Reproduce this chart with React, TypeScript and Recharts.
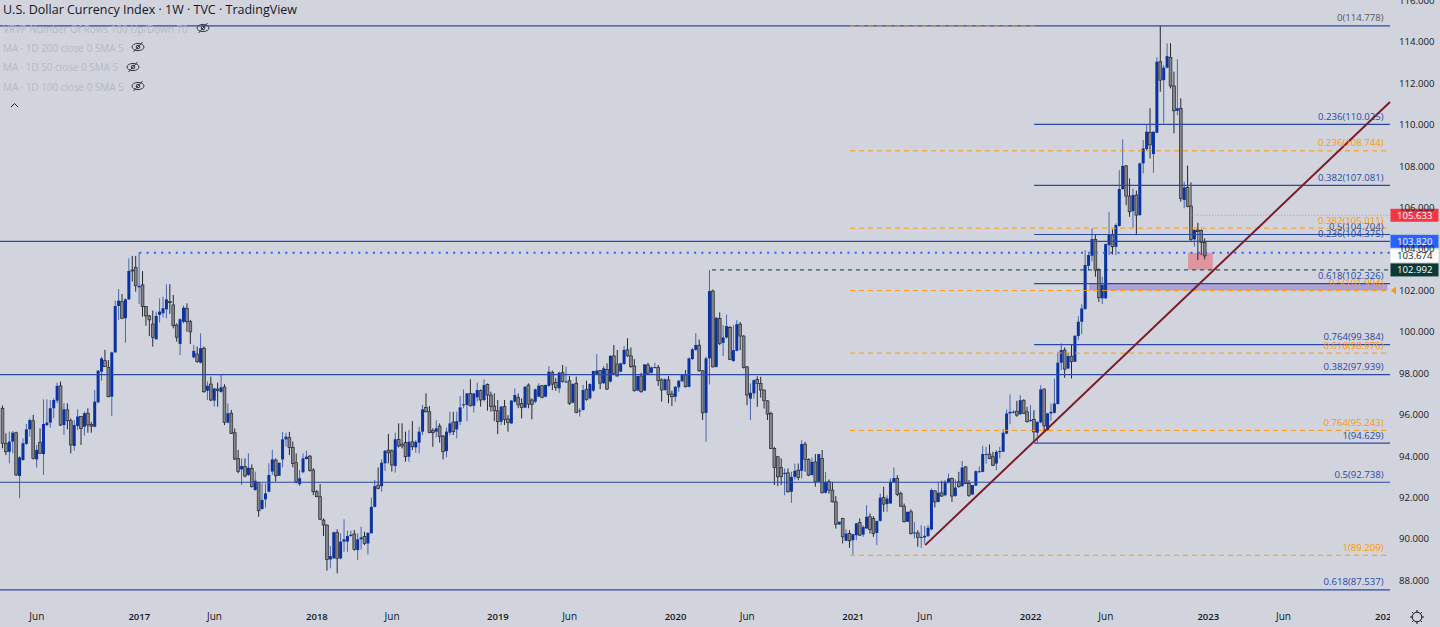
import { Bar, ComposedChart, ReferenceArea, ReferenceDot, ReferenceLine, XAxis, YAxis } from "recharts";

const opens = [
  96.31,94.62,94.21,94.70,95.13,93.04,93.81,94.59,95.29,95.71,
  93.84,94.67,94.10,95.50,95.62,96.31,96.68,97.39,95.50,96.23,
  95.71,94.49,95.45,95.91,95.42,96.07,95.53,95.42,96.60,98.08,
  98.61,98.29,96.87,99.01,101.25,101.46,100.66,101.57,102.99,103.12,
  102.15,102.27,101.22,100.77,100.38,99.64,100.82,100.90,101.09,101.46,
  101.30,100.33,99.42,100.49,101.14,100.49,98.77,98.93,98.51,99.21,
  97.16,97.48,96.68,97.24,97.10,97.34,95.62,96.07,95.13,93.89,
  93.36,93.49,93.09,93.41,92.36,92.72,91.44,91.91,92.28,93.25,
  93.81,93.05,93.84,94.81,94.89,94.42,93.68,92.64,93.22,93.86,
  94.00,93.33,92.28,92.04,90.91,90.67,89.01,89.06,90.32,89.06,
  89.87,89.87,90.14,90.24,89.46,89.98,90.11,89.78,90.27,91.55,
  92.60,92.55,93.65,94.29,94.26,93.52,94.81,94.58,94.65,93.97,
  94.69,94.42,94.65,95.18,96.35,96.14,95.23,95.18,95.45,94.97,
  94.24,95.13,95.64,95.29,95.66,96.45,96.47,97.03,96.43,96.84,
  97.16,96.71,97.46,96.95,96.42,96.19,95.66,96.39,95.79,95.58,
  96.63,96.84,96.55,96.34,97.43,96.71,96.63,96.87,97.40,96.87,
  97.39,98.03,97.55,97.27,98.03,97.58,97.64,96.58,97.52,96.15,
  96.23,97.23,96.79,97.16,97.95,98.13,97.52,98.19,97.60,98.84,
  98.45,98.08,98.45,99.13,98.84,98.35,97.16,97.87,97.16,98.40,
  98.03,98.27,98.29,97.68,97.19,97.68,97.00,96.87,97.32,97.61,
  97.92,97.35,98.69,99.13,99.36,98.12,96.09,98.72,101.97,98.31,
  100.65,99.47,99.73,100.21,98.59,99.09,100.37,99.80,98.31,96.78,
  97.03,97.70,97.51,97.19,96.67,96.06,94.37,93.97,93.45,93.16,
  93.19,92.28,93.00,93.32,93.29,94.58,93.84,93.08,93.72,92.76,
  93.89,92.23,92.76,92.36,91.79,90.70,90.99,89.91,90.26,89.94,
  90.18,90.79,90.21,90.50,91.07,90.99,90.29,90.87,92.00,91.68,
  91.71,92.74,92.92,92.19,91.58,90.83,91.31,90.26,90.29,90.05,
  90.07,90.13,90.46,92.32,91.79,92.23,92.11,92.73,92.92,92.08,
  92.76,92.55,93.48,92.68,92.15,92.58,93.24,93.24,94.08,94.10,
  93.97,93.64,94.19,94.21,95.09,96.06,96.11,96.17,96.03,96.70,
  96.14,95.71,95.77,95.13,95.63,97.24,95.26,96.06,96.09,96.51,
  98.51,99.12,98.23,98.83,98.56,99.80,100.49,101.10,103.19,103.68,
  104.47,103.02,101.62,101.62,104.19,104.68,104.11,105.12,106.90,108.02,
  106.56,105.83,106.61,105.64,108.14,108.83,109.64,108.59,109.62,113.05,
  112.16,112.76,113.26,111.88,110.68,110.80,106.37,106.98,106.08,104.47,
  104.92,104.89,104.31,
];

const highs = [
  96.44,95.10,95.18,95.21,95.18,94.00,94.86,95.55,95.82,95.99,
  94.54,95.34,96.74,96.74,96.71,96.79,97.55,97.60,96.55,96.55,
  95.82,95.74,96.26,95.94,96.15,96.31,95.66,97.19,98.13,98.80,
  99.13,98.64,99.05,101.51,102.07,101.83,101.62,103.55,103.67,103.67,
  103.83,102.94,101.25,100.82,101.03,100.98,101.62,101.70,102.30,102.30,
  101.78,100.41,100.66,101.27,101.38,100.58,99.37,99.29,99.93,99.29,
  97.60,97.84,97.27,97.55,97.92,97.47,96.55,96.23,95.34,94.30,
  93.89,93.89,94.13,93.60,93.25,92.75,92.68,92.68,93.65,94.30,
  93.89,93.68,95.17,95.13,95.17,94.70,94.13,93.33,94.13,94.26,
  94.05,93.41,92.36,92.65,90.99,90.70,89.66,90.35,90.46,90.27,
  90.95,90.40,90.40,90.43,90.27,90.59,90.35,90.30,92.00,92.84,
  93.45,93.84,94.29,95.07,94.32,95.13,95.58,95.58,95.18,95.26,
  95.69,94.78,95.42,96.47,97.03,96.42,95.34,95.74,95.58,95.02,
  95.37,96.14,96.14,96.14,96.90,97.22,97.03,97.71,97.03,97.55,
  97.22,97.71,97.51,97.11,97.03,96.71,96.42,96.71,95.98,96.71,
  97.27,97.03,96.79,97.38,97.51,96.79,97.27,97.52,97.44,97.44,
  98.35,98.13,97.76,98.08,98.40,98.32,97.87,97.52,97.84,96.31,
  97.44,97.64,97.52,98.13,98.93,98.16,98.35,98.48,98.88,99.37,
  99.13,98.51,99.32,99.69,99.25,98.68,97.87,98.03,98.43,98.51,
  98.32,98.51,98.40,97.76,97.76,97.87,97.16,97.39,97.68,97.92,
  98.16,98.76,99.21,99.93,99.63,98.15,98.80,102.99,102.05,100.73,
  100.94,100.33,100.84,100.28,100.33,100.57,100.48,99.84,98.35,97.51,
  97.70,97.86,97.83,97.22,96.70,96.14,94.45,94.00,93.89,93.40,
  93.40,93.24,93.64,93.64,94.77,94.69,93.89,93.93,94.10,94.10,
  94.29,93.24,92.87,92.76,92.07,90.83,91.02,90.46,90.42,90.23,
  90.78,90.99,90.66,91.63,91.23,91.10,90.87,92.19,92.52,92.11,
  92.92,93.45,93.08,92.28,91.71,91.31,91.42,90.83,90.42,90.66,
  90.62,90.66,92.44,92.36,92.76,92.81,92.84,93.16,92.97,92.87,
  93.24,93.77,93.51,92.84,92.60,93.32,93.51,94.50,94.45,94.56,
  94.21,94.29,94.45,95.30,96.25,96.98,96.22,96.67,96.95,96.74,
  96.38,96.46,96.22,95.66,97.43,97.27,96.09,96.54,97.75,99.04,
  99.44,99.25,98.99,99.36,99.84,100.76,101.33,103.95,103.79,105.00,
  104.68,103.07,102.66,104.27,105.80,104.95,105.24,107.81,109.30,108.06,
  107.41,106.93,106.82,108.17,109.27,109.99,110.80,109.67,113.26,114.78,
  112.89,113.94,113.94,112.57,113.16,111.28,107.25,108.03,107.22,104.95,
  105.27,104.95,104.52,
];

const lows = [
  94.38,94.05,93.65,94.13,93.04,91.96,93.78,94.54,94.94,93.84,
  93.44,94.10,93.09,95.45,95.37,95.82,96.55,95.45,95.02,95.29,
  94.13,94.26,95.26,94.54,94.99,95.13,95.13,95.39,96.55,97.64,
  98.32,96.84,95.94,99.00,100.58,100.62,99.48,101.54,102.43,101.94,
  101.35,100.74,100.29,99.80,99.29,99.64,100.45,100.70,100.66,100.87,
  100.17,99.53,98.88,100.41,100.01,99.42,98.72,98.51,98.48,97.06,
  96.71,96.65,96.39,96.39,97.06,95.50,95.58,95.07,93.81,93.17,
  92.60,92.97,93.04,92.48,92.33,91.07,91.43,91.51,92.25,93.09,
  92.77,93.04,93.46,94.46,94.05,93.46,92.68,92.56,93.17,93.84,
  93.25,92.12,92.01,90.91,90.14,88.47,88.58,89.06,88.34,89.01,
  89.38,89.38,90.11,89.43,88.98,89.49,89.70,89.25,90.27,91.52,
  92.39,92.28,93.29,93.65,93.25,93.20,94.42,94.37,93.73,93.73,
  94.29,94.16,94.13,95.02,96.11,95.10,94.45,94.90,94.65,93.84,
  93.94,95.02,95.02,94.86,95.50,96.31,95.69,96.39,96.10,96.63,
  96.39,96.63,96.19,96.14,95.69,95.07,95.50,95.50,95.18,95.55,
  96.58,96.31,95.82,96.31,96.31,95.77,96.55,96.84,96.79,96.84,
  97.35,97.19,97.16,97.06,97.55,97.55,96.47,96.55,96.07,95.91,
  96.20,96.68,96.74,97.11,97.92,97.23,97.48,97.19,97.55,97.97,
  97.84,98.05,98.40,98.80,98.26,97.11,97.16,97.06,97.16,97.97,
  97.97,98.24,97.39,96.63,97.16,96.55,96.42,96.63,97.11,97.60,
  97.32,97.32,98.64,99.09,98.07,95.74,94.69,97.46,98.28,98.28,
  99.36,98.83,99.68,98.64,98.56,99.06,99.12,98.23,96.46,95.74,
  96.78,96.38,96.82,96.30,95.74,94.34,92.60,92.55,92.60,92.11,
  92.23,91.74,92.87,92.84,92.92,93.24,93.03,93.08,92.52,92.76,
  92.19,92.19,92.19,91.76,90.50,90.67,89.78,89.89,89.57,89.25,
  89.94,90.15,90.10,90.50,90.26,90.10,89.70,90.84,91.31,91.31,
  91.71,92.71,92.07,91.55,90.79,90.83,90.21,90.02,89.62,89.57,
  89.78,90.10,90.42,91.52,91.76,92.03,92.07,92.68,91.79,92.03,
  92.48,92.52,92.65,92.03,92.11,92.55,93.19,93.22,93.64,93.85,
  93.52,93.32,93.89,94.21,95.06,95.54,96.06,95.90,95.98,96.03,
  95.62,95.66,94.69,94.64,95.58,95.22,95.22,95.71,96.06,96.51,
  98.15,97.78,98.20,97.75,98.54,99.60,99.89,101.08,102.98,103.40,
  102.66,101.45,101.34,101.60,103.71,103.74,103.71,105.08,106.85,106.12,
  105.56,105.04,104.67,105.61,107.66,108.74,108.38,107.69,109.59,111.60,
  110.07,112.73,111.76,109.59,110.47,106.29,105.97,106.02,104.40,104.12,
  103.47,103.71,103.50,
];

const closes = [
  94.62,94.21,94.70,95.13,93.09,93.94,94.62,95.29,95.74,93.89,
  94.30,94.13,95.55,95.62,96.31,96.71,97.39,95.50,96.26,95.71,
  94.54,95.50,95.91,95.34,96.07,95.50,95.45,96.63,98.13,98.72,
  98.32,96.87,99.01,101.25,101.51,100.66,101.57,102.94,102.94,102.23,
  102.22,101.22,100.77,100.58,99.74,100.77,100.98,101.14,101.57,101.41,
  100.30,99.74,100.61,101.17,100.49,100.00,99.08,98.56,99.21,97.11,
  97.40,96.71,97.27,97.16,97.32,95.62,96.07,95.10,93.86,93.25,
  93.52,93.04,93.44,92.52,92.81,91.36,91.88,92.20,93.09,93.84,
  93.05,93.68,94.81,94.94,94.42,93.65,92.75,92.93,93.89,93.97,
  93.30,92.28,92.04,90.95,90.67,89.01,89.17,90.32,89.06,89.87,
  89.98,90.14,90.20,89.50,89.98,90.07,89.78,90.30,91.55,92.55,
  92.44,93.68,94.26,94.16,93.57,94.81,94.49,94.49,93.97,94.69,
  94.45,94.69,95.18,96.26,96.14,95.15,95.13,95.34,94.94,94.21,
  95.18,95.58,95.18,95.69,96.35,96.50,97.03,96.43,97.03,97.19,
  96.71,97.43,96.95,96.39,96.19,95.66,96.39,95.77,95.63,96.68,
  96.95,96.47,96.35,97.35,96.51,96.50,97.22,97.40,96.84,97.44,
  98.08,97.48,97.31,98.03,97.60,97.60,96.55,97.48,96.10,96.20,
  97.19,96.74,97.48,98.11,98.13,97.52,98.24,97.24,98.84,98.00,
  97.87,98.48,99.13,98.84,98.32,97.16,97.87,97.11,98.43,98.00,
  98.29,98.30,97.64,97.19,97.71,96.98,96.87,97.35,97.64,97.92,
  97.35,98.72,99.16,99.37,98.12,96.09,98.72,101.97,98.31,100.68,
  99.44,99.73,100.28,98.67,99.12,100.37,99.80,98.28,96.95,97.06,
  97.67,97.51,97.19,96.67,96.03,94.37,93.45,93.00,93.00,93.19,
  92.28,93.00,93.29,92.97,94.58,93.84,93.08,93.72,92.76,94.10,
  92.23,92.76,92.36,91.79,90.71,90.83,90.10,90.26,89.91,90.23,
  90.75,90.18,90.58,91.07,90.46,90.26,90.87,91.99,91.68,91.95,
  92.76,92.94,92.15,91.58,90.83,91.31,90.26,90.31,90.07,90.10,
  90.15,90.54,92.36,91.79,92.23,92.07,92.76,92.92,92.07,92.48,
  92.52,93.45,92.68,92.11,92.60,93.27,93.27,94.10,94.10,93.89,
  93.56,94.21,94.24,95.13,96.06,96.14,96.14,95.98,96.70,96.06,
  95.66,95.74,95.17,95.66,97.22,95.46,96.06,96.14,96.54,98.51,
  99.12,98.20,98.83,98.56,99.81,100.49,101.13,103.23,103.71,104.48,
  102.98,101.65,102.26,104.24,104.68,104.11,105.16,106.90,108.02,106.56,
  105.80,106.61,105.64,108.14,108.86,109.67,109.03,109.67,113.05,112.16,
  112.76,113.32,111.88,110.68,110.80,106.45,106.98,106.05,104.47,104.92,
  104.84,104.31,103.67,
];

const xMin = -0.79;
const xMax = 406.2;
const yMin = 86.76;
const yMax = 116.03;

const priceTicks = [88, 90, 92, 94, 96, 98, 100, 102, 104, 106, 108, 110, 112, 114, 116];
const timeTicks = [10, 40, 62, 92, 114, 145, 166, 197, 218, 249, 270, 301, 323, 353, 375, 405];
const timeLabels = ["Jun", "2017", "Jun", "2018", "Jun", "2019", "Jun", "2020", "Jun", "2021", "Jun", "2022", "Jun", "2023", "Jun", "2024"];

// first fib: lines start where the swing starts
const blueStart = 302;
const blueLevels = [
  { price: 110.025, label: "0.236(110.025)" },
  { price: 107.081, label: "0.382(107.081)" },
  { price: 104.704, label: "0.5(104.704)" },
  { price: 102.326, label: "0.618(102.326)" },
  { price: 99.384, label: "0.764(99.384)" },
  { price: 94.629, label: "1(94.629)" },
];
// second fib, the dashed orange one
const orangeStart = 248.1;
const orangeLevels = [
  { price: 114.778, label: "" },
  { price: 108.744, label: "0.236(108.744)" },
  { price: 105.011, label: "0.382(105.011)" },
  { price: 101.994, label: "0.5(101.994)" },
  { price: 98.976, label: "0.618(98.976)" },
  { price: 95.243, label: "0.764(95.243)" },
  { price: 89.209, label: "1(89.209)" },
];
// these run the whole width of the pane
const fullLevels = [
  { price: 114.778, label: "0(114.778)" },
  { price: 104.375, label: "0.236(104.375)" },
  { price: 97.939, label: "0.382(97.939)" },
  { price: 92.738, label: "0.5(92.738)" },
  { price: 87.537, label: "0.618(87.537)" },
];
const priceTags = [
  { price: 105.633, label: "105.633", fill: "#f23645", color: "#ffffff", shift: 0 },
  { price: 103.82, label: "103.820", fill: "#2962ff", color: "#ffffff", shift: -11.5 },
  { price: 103.674, label: "103.674", fill: "#ffffff", color: "#131722", shift: 0 },
  { price: 102.992, label: "102.992", fill: "#0b3a36", color: "#ffffff", shift: 0 },
];
const indicators = [
  "VRVP Number Of Rows 100 Up/Down 70",
  "MA · 1D 200 close 0 SMA 5",
  "MA · 1D 50 close 0 SMA 5",
  "MA · 1D 100 close 0 SMA 5",
];

const candles = opens.map((open, i) => ({
  week: i,
  open,
  high: highs[i],
  low: lows[i],
  close: closes[i],
}));

const BLUE = "#2a48a8";
const ORANGE = "#ff9800";
const FONT = "'Open Sans', sans-serif";

function Candle(props: any) {
  const { x, y, width, height, payload } = props;
  const { open, high, low, close } = payload;
  const up = close >= open;
  const perUnit = height / (high - low);
  const cx = x + width / 2;
  const top = y + (high - Math.max(open, close)) * perUnit;
  const bodyH = Math.max(Math.abs(open - close) * perUnit, 1);
  if (up) {
    return (
      <g>
        <line x1={cx} x2={cx} y1={y} y2={y + height} stroke="#4a66b0" strokeWidth={1} />
        <rect x={cx - 1.5} y={top} width={3} height={bodyH} fill="#0a32a0" />
      </g>
    );
  }
  return (
    <g>
      <line x1={cx} x2={cx} y1={y} y2={y + height} stroke="#26282e" strokeWidth={1} />
      <rect x={cx - 1.4} y={top} width={2.8} height={bodyH} fill="#82848a" stroke="#26282e" strokeWidth={0.7} />
    </g>
  );
}

function LevelLabel({ cx, cy, text, color }: any) {
  return (
    <text x={cx - 6.5} y={cy - 4.5} textAnchor="end" fontSize={9.6} fontFamily={FONT} fill={color}>
      {text}
    </text>
  );
}

function PriceTag({ cx, cy, tag }: any) {
  return (
    <g>
      <rect x={cx + 0.5} y={cy + tag.shift - 6.5} width={48} height={13} fill={tag.fill} />
      <text x={cx + 7} y={cy + tag.shift + 3.5} fontSize={9.6} fontFamily={FONT} fill={tag.color}>
        {tag.label}
      </text>
    </g>
  );
}

function TimeTick({ x, y, index }: any) {
  const label = timeLabels[index];
  const isYear = label !== "Jun";
  return (
    <g>
      <clipPath id={`time-clip-${index}`}>
        <rect x={0} y={y - 10} width={1390} height={40} />
      </clipPath>
      <text
        x={x}
        y={y + 6}
        textAnchor="middle"
        fontSize={isYear ? 9.5 : 10}
        fontFamily={FONT}
        fontWeight={isYear ? 600 : 400}
        fill="#131722"
        clipPath={`url(#time-clip-${index})`}
      >
        {label}
      </text>
    </g>
  );
}

function Eye({ left, top }: { left: number; top: number }) {
  return (
    <svg style={{ position: "absolute", left, top }} width={14} height={12} viewBox="0 0 14 12">
      <ellipse cx={7} cy={6} rx={6} ry={3.6} fill="none" stroke="#363a45" strokeWidth={1} />
      <circle cx={7} cy={6} r={1.8} fill="none" stroke="#363a45" strokeWidth={1} />
      <line x1={2.5} y1={11} x2={11.5} y2={1} stroke="#363a45" strokeWidth={1} />
    </svg>
  );
}

export default function App() {
  return (
    <div style={{ position: "absolute", left: 0, top: 0, width: 1440, height: 627, background: "#d1d4dc", overflow: "hidden" }}>
      <ComposedChart width={1440} height={627} data={candles} margin={{ top: 0, right: 0, bottom: 0, left: 0 }}>
        <XAxis
          dataKey="week"
          type="number"
          domain={[xMin, xMax]}
          allowDataOverflow
          ticks={timeTicks}
          interval={0}
          height={21}
          axisLine={false}
          tickLine={false}
          tick={<TimeTick />}
        />
        <YAxis
          orientation="right"
          type="number"
          domain={[yMin, yMax]}
          allowDataOverflow
          ticks={priceTicks}
          interval={0}
          width={50}
          axisLine={false}
          tickLine={false}
          tickMargin={0}
          tickFormatter={(v: number) => v.toFixed(3)}
          tick={{ fontSize: 9.6, fontFamily: FONT, fill: "#131722", dx: 3 }}
        />

        <ReferenceArea x1={318.1} x2={405.4} y1={101.994} y2={102.326} fill="#7e57c2" fillOpacity={0.4} stroke="none" />
        <ReferenceArea x1={347.1} x2={354.3} y1={102.992} y2={103.82} fill="#f23645" fillOpacity={0.4} stroke="none" />

        {fullLevels.map((l) => (
          <ReferenceLine key={l.label} y={l.price} stroke={BLUE} strokeWidth={1.2} />
        ))}
        {blueLevels.map((l) => (
          <ReferenceLine
            key={l.label}
            segment={[{ x: blueStart, y: l.price }, { x: xMax, y: l.price }]}
            stroke={BLUE}
            strokeWidth={1.2}
          />
        ))}
        {orangeLevels.map((l) => (
          <ReferenceLine
            key={l.price}
            segment={[{ x: orangeStart, y: l.price }, { x: l.label ? xMax : blueStart, y: l.price }]}
            stroke={ORANGE}
            strokeWidth={1}
            strokeDasharray="5 4"
          />
        ))}
        <ReferenceLine
          segment={[{ x: 40, y: 103.82 }, { x: xMax, y: 103.82 }]}
          stroke="#2962ff"
          strokeWidth={2}
          strokeDasharray="2 5.3"
        />
        <ReferenceLine
          segment={[{ x: 207.7, y: 102.992 }, { x: xMax, y: 102.992 }]}
          stroke="#0b3a36"
          strokeWidth={1}
          strokeDasharray="4 4"
        />
        <ReferenceLine
          segment={[{ x: 348, y: 105.633 }, { x: xMax, y: 105.633 }]}
          stroke="#e8828f"
          strokeWidth={1}
          strokeDasharray="1 2"
        />

        <Bar dataKey={(d: any) => [d.low, d.high]} barSize={3} isAnimationActive={false} shape={<Candle />} />

        <ReferenceLine
          segment={[{ x: 270.1, y: 89.7 }, { x: xMax, y: 111.1 }]}
          stroke="#7b1c2a"
          strokeWidth={2}
        />

        {[...fullLevels, ...blueLevels].map((l) => (
          <ReferenceDot
            key={l.label}
            x={xMax}
            y={l.price}
            ifOverflow="visible"
            shape={<LevelLabel text={l.label} color={l.label.startsWith("0(") ? "#545866" : BLUE} />}
          />
        ))}
        {orangeLevels.filter((l) => l.label).map((l) => (
          <ReferenceDot
            key={l.label}
            x={xMax}
            y={l.price}
            ifOverflow="visible"
            shape={<LevelLabel text={l.label} color={ORANGE} />}
          />
        ))}
        {priceTags.map((t) => (
          <ReferenceDot key={t.label} x={xMax} y={t.price} ifOverflow="visible" shape={<PriceTag tag={t} />} />
        ))}
        <ReferenceDot
          x={xMax}
          y={101.994}
          ifOverflow="visible"
          shape={(p: any) => <path d={`M${p.cx + 1} ${p.cy}L${p.cx + 6} ${p.cy - 4}V${p.cy + 4}Z`} fill={ORANGE} />}
        />
      </ComposedChart>

      <div style={{ position: "absolute", left: 3, top: 0.5, fontFamily: FONT, fontSize: 12.5, lineHeight: "17px", color: "#131722", whiteSpace: "nowrap" }}>
        U.S. Dollar Currency Index · 1W · TVC · TradingView
      </div>
      {indicators.map((name, i) => (
        <div
          key={name}
          style={{ position: "absolute", left: 3, top: 20.5 + i * 19.4, fontFamily: FONT, fontSize: 9.9, lineHeight: "16px", color: "#b6b9c3", whiteSpace: "nowrap" }}
        >
          {name}
        </div>
      ))}
      <Eye left={196} top={22} />
      <Eye left={131} top={41} />
      <Eye left={126} top={61} />
      <Eye left={131} top={80} />
      <svg style={{ position: "absolute", left: 10, top: 102 }} width={9} height={6}>
        <path d="M1 5L4.5 1.5L8 5" fill="none" stroke="#131722" strokeWidth={1} />
      </svg>
      <svg style={{ position: "absolute", left: 1409, top: 609 }} width={16} height={16} viewBox="0 0 16 16">
        <circle cx={8} cy={8} r={4.8} fill="none" stroke="#131722" strokeWidth={1} />
        <path d="M8 1V3.2M8 12.8V15M1 8H3.2M12.8 8H15M3 3L4.6 4.6M11.4 11.4L13 13M13 3L11.4 4.6M4.6 11.4L3 13" stroke="#131722" strokeWidth={1} />
      </svg>
    </div>
  );
}
